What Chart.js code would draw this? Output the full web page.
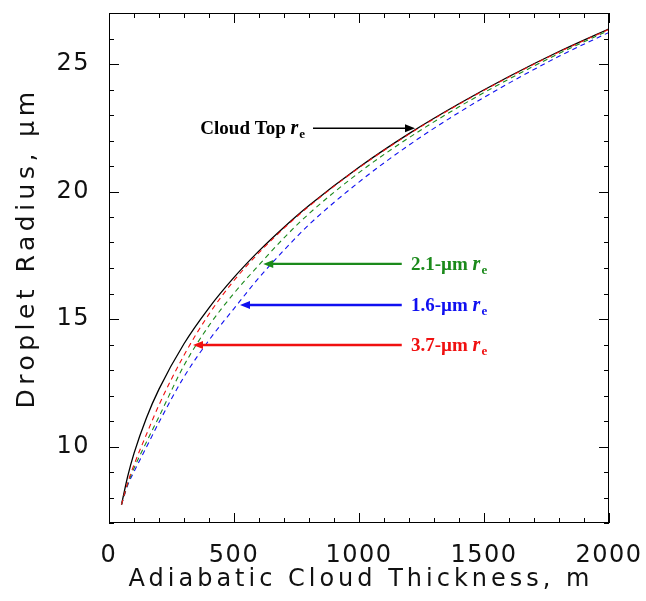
<!DOCTYPE html>
<html>
<head>
<meta charset="utf-8">
<script src="https://cdn.jsdelivr.net/npm/chart.js@4.4.0/dist/chart.umd.min.js"></script>
<style>
  html, body { margin: 0; padding: 0; background: #fff; }
</style>
</head>
<body>
<canvas id="myChart" width="646" height="601"></canvas>
<script>
// adiabatic cloud thickness (m) and droplet radius (um)
const thickness = [50, 75, 100, 150, 200, 300, 400, 500, 600, 700, 800, 1000, 1200, 1400, 1600, 1800, 2000];
const cloudTopRe = [7.72, 8.84, 9.73, 11.13, 12.25, 14.03, 15.44, 16.63, 17.67, 18.6, 19.45, 20.95, 22.27, 23.44, 24.51, 25.49, 26.38];
const re37 = [7.72, 8.59, 9.28, 10.48, 11.63, 13.58, 15.19, 16.51, 17.6, 18.56, 19.42, 20.93, 22.25, 23.42, 24.49, 25.47, 26.36];
const re21 = [7.72, 8.54, 9.15, 10.18, 11.17, 13.18, 14.74, 16.01, 17.12, 18.18, 19.13, 20.74, 22.11, 23.32, 24.41, 25.41, 26.32];
const re16 = [7.72, 8.49, 9.01, 9.98, 10.95, 12.73, 14.17, 15.41, 16.62, 17.7, 18.7, 20.37, 21.82, 23.1, 24.25, 25.3, 26.24];

const xTickLabels = [0, 500, 1000, 1500, 2000];
const yTickLabels = [10, 15, 20, 25];
const xTitle = 'Adiabatic Cloud Thickness, m';
const yTitle = 'Droplet Radius, \u03bcm';

const ctx = document.getElementById('myChart').getContext('2d');

const labelFont = 'DejaVu Sans';
const green = '#1b8a1b';
const red = '#f01010';
const blue = '#1010f0';

// arrow annotations in data units: tail, tip, text anchor
const arrows = [
    { text: 'Cloud Top ', color: '#000', from: [816, 22.48], to: [1224, 22.48], textAt: [784, 22.48], align: 'right', width: 1.6 },
    { text: '2.1-\u00b5m ', color: green, from: [1171, 17.16], to: [617, 17.16], textAt: [1208, 17.16], align: 'left', width: 2.4 },
    { text: '1.6-\u00b5m ', color: blue, from: [1171, 15.55], to: [524, 15.55], textAt: [1208, 15.55], align: 'left', width: 2.4 },
    { text: '3.7-\u00b5m ', color: red, from: [1171, 13.98], to: [336, 13.98], textAt: [1208, 13.98], align: 'left', width: 2.4 }
];

function series(label, values, color, dashed, width) {
    return {
        label: label,
        data: thickness.map((h, i) => ({ x: h, y: values[i] })),
        borderColor: color,
        borderWidth: width,
        borderDash: dashed ? [5, 4] : [],
        pointRadius: 0,
        fill: false,
        cubicInterpolationMode: 'monotone'
    };
}

function noPadding(s) {
    s.paddingTop = 0;
    s.paddingBottom = 0;
    s.paddingLeft = 0;
    s.paddingRight = 0;
}

const frameTicks = {
    id: 'frameTicks',
    beforeUpdate(chart) {
        chart.ctx.letterSpacing = '1.5px';
    },
    beforeDraw(chart) {
        chart.ctx.letterSpacing = '1.5px';
    },
    afterDatasetsDraw(chart) {
        const c = chart.ctx;
        const a = chart.chartArea;
        const x = chart.scales.x;
        const y = chart.scales.y;
        c.save();
        c.strokeStyle = '#000';
        c.lineWidth = 1;
        c.beginPath();
        for (let v = 0; v <= 2000; v += 100) {
            const len = v % 500 === 0 ? 10 : 5;
            const px = Math.round(x.getPixelForValue(v)) + 0.5;
            c.moveTo(px, a.bottom); c.lineTo(px, a.bottom - len);
            c.moveTo(px, a.top); c.lineTo(px, a.top + len);
        }
        for (let v = 7; v <= 27; v++) {
            const len = v % 5 === 0 ? 10 : 5;
            const py = Math.round(y.getPixelForValue(v)) + 0.5;
            c.moveTo(a.left, py); c.lineTo(a.left + len, py);
            c.moveTo(a.right, py); c.lineTo(a.right - len, py);
        }
        c.stroke();
        c.strokeRect(Math.round(a.left) + 0.5, Math.round(a.top) + 0.5,
            Math.round(a.right - a.left) - 1, Math.round(a.bottom - a.top) - 1);

        // axis titles
        c.fillStyle = '#111';
        c.textAlign = 'center';
        c.textBaseline = 'middle';
        c.font = '24px "' + labelFont + '"';
        c.letterSpacing = '4px';
        c.fillText(xTitle, (a.left + a.right) / 2 + 2, 580);
        c.save();
        c.translate(27, 250);
        c.rotate(-Math.PI / 2);
        c.font = '25px "' + labelFont + '"';
        c.letterSpacing = '4.5px';
        c.fillText(yTitle, 2, 0);
        c.restore();

        // arrows and labels
        c.letterSpacing = '0px';
        arrows.forEach(ar => {
            const x0 = x.getPixelForValue(ar.from[0]);
            const x1 = x.getPixelForValue(ar.to[0]);
            const py = y.getPixelForValue(ar.to[1]);
            const dir = Math.sign(x1 - x0);
            c.strokeStyle = ar.color;
            c.fillStyle = ar.color;
            c.lineWidth = ar.width;
            c.beginPath();
            c.moveTo(x0, py);
            c.lineTo(x1 - dir * 6, py);
            c.stroke();
            c.beginPath();
            c.moveTo(x1, py);
            c.lineTo(x1 - dir * 10, py - 4);
            c.lineTo(x1 - dir * 10, py + 4);
            c.closePath();
            c.fill();

            c.textBaseline = 'alphabetic';
            const main = 'bold 19px "Liberation Serif"';
            const ital = 'italic bold 20px "Liberation Serif"';
            const sub = 'bold 13px "Liberation Serif"';
            c.font = main; const w1 = c.measureText(ar.text).width;
            c.font = ital; const w2 = c.measureText('r').width;
            c.font = sub; const w3 = c.measureText('e').width;
            const total = w1 + w2 + w3 + 1;
            let tx = x.getPixelForValue(ar.textAt[0]);
            if (ar.align === 'right') tx -= total;
            const base = py + 6;
            c.textAlign = 'left';
            c.font = main; c.fillText(ar.text, tx, base);
            c.font = ital; c.fillText('r', tx + w1, base);
            c.font = sub; c.fillText('e', tx + w1 + w2 + 1, base + 4);
        });
        c.restore();
    }
};

const myChart = new Chart(ctx, {
    type: 'line',
    data: {
        datasets: [
            series('3.7-um re', re37, red, true, 1.1),
            series('2.1-um re', re21, green, true, 1.1),
            series('1.6-um re', re16, blue, true, 1.1),
            series('Cloud Top re', cloudTopRe, '#000', false, 1.3)
        ]
    },
    options: {
        responsive: false,
        devicePixelRatio: 1,
        animation: false,
        layout: { padding: { top: 13, right: 37, left: 0, bottom: 0 } },
        plugins: { legend: { display: false }, tooltip: { enabled: false } },
        scales: {
            x: {
                type: 'linear',
                min: 0,
                max: 2000,
                afterBuildTicks: s => { s.ticks = xTickLabels.map(v => ({ value: v })); },
                afterFit: s => { s.height = 78; noPadding(s); },
                grid: { display: false },
                border: { display: false },
                ticks: { font: { family: labelFont, size: 24 }, color: '#111', padding: 10, maxRotation: 0,
                    autoSkip: false, callback: v => String(v) }
            },
            y: {
                type: 'linear',
                min: 7,
                max: 27,
                afterBuildTicks: s => { s.ticks = yTickLabels.map(v => ({ value: v })); },
                afterFit: s => { s.width = 109; noPadding(s); },
                grid: { display: false },
                border: { display: false },
                ticks: { font: { family: labelFont, size: 24 }, color: '#111', padding: 11,
                    autoSkip: false, callback: v => String(v) }
            }
        }
    },
    plugins: [frameTicks]
});
</script>
</body>
</html>
